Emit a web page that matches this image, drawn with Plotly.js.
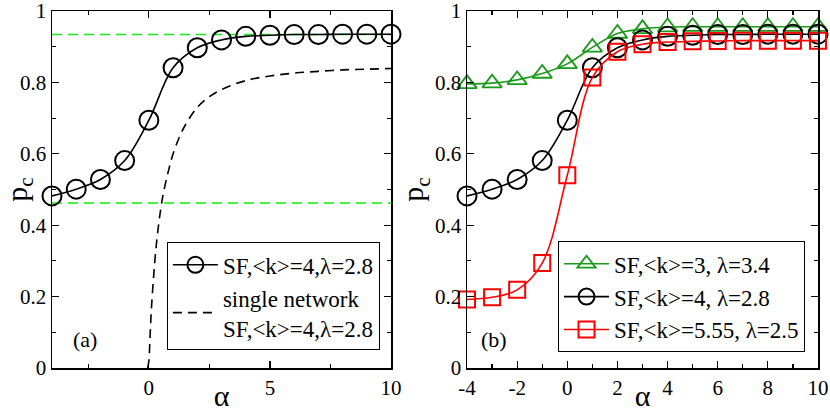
<!DOCTYPE html>
<html>
<head>
<meta charset="utf-8">
<script src="https://cdn.plot.ly/plotly-3.0.1.min.js"></script>
<style>
  body { margin: 0; background: #fff; }
  #chart { width: 830px; height: 412px; }
</style>
</head>
<body>
<div id="chart"></div>
<script>
// alpha values for the simulated points
var alphas = [-4, -3, -2, -1, 0, 1, 2, 3, 4, 5, 6, 7, 8, 9, 10]

// SF <k>=4, lambda=2.8 (same in both panels)
var pcK4 = [0.482, 0.501, 0.528, 0.581, 0.694, 0.841, 0.897, 0.919, 0.929, 0.932, 0.934, 0.934, 0.935, 0.935, 0.935]
// SF <k>=3, lambda=3.4
var pcK3 = [0.796, 0.798, 0.807, 0.825, 0.852, 0.898, 0.937, 0.950, 0.955, 0.956, 0.956, 0.956, 0.956, 0.956, 0.956]
// SF <k>=5.55, lambda=2.5
var pcK555 = [0.192, 0.198, 0.219, 0.294, 0.540, 0.814, 0.886, 0.907, 0.913, 0.915, 0.916, 0.917, 0.917, 0.917, 0.917]

// single network curve
var singleAlpha = [-0.05, 0, 0.05, 0.1, 0.2, 0.3, 0.4, 0.5, 0.6, 0.8, 1.0, 1.25, 1.5, 2, 2.5, 3, 4, 5, 6, 7, 8, 9, 10]
var singlePc = [0, 0.02, 0.09, 0.16, 0.26, 0.34, 0.40, 0.45, 0.49, 0.55, 0.60, 0.645, 0.68, 0.73, 0.76, 0.78, 0.805, 0.818, 0.826, 0.831, 0.835, 0.837, 0.839]

// green reference levels in panel (a)
var levelX = [-4, 10]
var levelHigh = [0.934, 0.934]
var levelLow = [0.462, 0.462]

// tick labels
var yTickVals = [0, 0.2, 0.4, 0.6, 0.8, 1]
var yTickText = ["0", "0.2", "0.4", "0.6", "0.8", "1"]
var xTickValsA = [0, 5, 10]
var xTickTextA = ["0", "5", "10"]
var xTickValsB = [-4, -2, 0, 2, 4, 6, 8, 10]
var xTickTextB = ["-4", "-2", "0", "2", "4", "6", "8", "10"]

var fontName = "Liberation Serif"
var greenDark = "#1a9a1a"
var red = "#ff0000"

var data = [
    {
        x: levelX, y: levelHigh, xaxis: "x", yaxis: "y", mode: "lines",
        line: {color: "#11ee11", width: 1.6, dash: "10px,6px"}, showlegend: false, hoverinfo: "skip"
    },
    {
        x: levelX, y: levelLow, xaxis: "x", yaxis: "y", mode: "lines",
        line: {color: "#11ee11", width: 1.6, dash: "10px,6px"}, showlegend: false, hoverinfo: "skip"
    },
    {
        x: alphas, y: pcK4, xaxis: "x", yaxis: "y", mode: "lines+markers",
        name: "SF,&lt;k&gt;=4,λ=2.8", legend: "legend", cliponaxis: false,
        line: {color: "black", width: 1.6, shape: "spline"},
        marker: {symbol: "circle-open", size: 19, color: "black", line: {width: 2, color: "black"}}
    },
    {
        x: singleAlpha, y: singlePc, xaxis: "x", yaxis: "y", mode: "lines",
        name: "single network<br>SF,&lt;k&gt;=4,λ=2.8", legend: "legend",
        line: {color: "black", width: 1.6, dash: "9px,6px", shape: "spline"}
    },
    {
        x: alphas, y: pcK3, xaxis: "x2", yaxis: "y2", mode: "lines+markers",
        name: "SF,&lt;k&gt;=3, λ=3.4", legend: "legend2", cliponaxis: false,
        line: {color: greenDark, width: 1.6, shape: "spline"},
        marker: {symbol: "triangle-up-open", size: 17, color: greenDark, line: {width: 1.8, color: greenDark}}
    },
    {
        x: alphas, y: pcK4, xaxis: "x2", yaxis: "y2", mode: "lines+markers",
        name: "SF,&lt;k&gt;=4, λ=2.8", legend: "legend2", cliponaxis: false,
        line: {color: "black", width: 1.6, shape: "spline"},
        marker: {symbol: "circle-open", size: 19, color: "black", line: {width: 2, color: "black"}}
    },
    {
        x: alphas, y: pcK555, xaxis: "x2", yaxis: "y2", mode: "lines+markers",
        name: "SF,&lt;k&gt;=5.55, λ=2.5", legend: "legend2", cliponaxis: false,
        line: {color: red, width: 1.6, shape: "spline"},
        marker: {symbol: "square-open", size: 16, color: red, line: {width: 2, color: red}}
    }
]

function xAxis(domain, tickVals, tickText, minorDtick, anchor) {
    return {
        domain: domain, anchor: anchor, range: [-4, 10],
        tickmode: "array", tickvals: tickVals, ticktext: tickText,
        showgrid: false, zeroline: false, showline: true, linecolor: "black", linewidth: 1.5,
        mirror: "ticks", ticks: "inside", ticklen: 7, tickwidth: 1.2, tickcolor: "black",
        minor: {tick0: 0, dtick: minorDtick, ticks: "inside", ticklen: 4, tickwidth: 1.2, tickcolor: "black"},
        tickfont: {family: fontName, size: 21, color: "black"},
        ticklabeloverflow: "allow",
        title: {text: "α", font: {family: fontName, size: 30, color: "black"}, standoff: 0}
    }
}

function yAxis(anchor) {
    return {
        anchor: anchor, domain: [0, 1], range: [0, 1],
        tickmode: "array", tickvals: yTickVals, ticktext: yTickText,
        showgrid: false, zeroline: false, showline: true, linecolor: "black", linewidth: 1.5,
        mirror: "ticks", ticks: "inside", ticklen: 7, tickwidth: 1.2, tickcolor: "black",
        minor: {tick0: 0, dtick: 0.1, ticks: "inside", ticklen: 4, tickwidth: 1.2, tickcolor: "black"},
        tickfont: {family: fontName, size: 21, color: "black"},
        ticklabeloverflow: "allow",
        title: {text: "p<sub>c</sub>", font: {family: fontName, size: 30, color: "black"}, standoff: 2}
    }
}

function legendAt(x, y) {
    return {
        x: x, y: y, xanchor: "left", yanchor: "top",
        bgcolor: "white", bordercolor: "black", borderwidth: 1,
        font: {family: fontName, size: 23, color: "black"},
        itemwidth: 45, tracegroupgap: 0
    }
}

var layout = {
    width: 830, height: 412,
    margin: {l: 52, r: 12, t: 11, b: 44},
    paper_bgcolor: "white", plot_bgcolor: "white",
    font: {family: fontName, color: "black"},
    xaxis: xAxis([0, 0.4426], xTickValsA, xTickTextA, 2.5, "y"),
    yaxis: yAxis("x"),
    xaxis2: xAxis([0.5418, 1], xTickValsB, xTickTextB, 1, "y2"),
    yaxis2: yAxis("x2"),
    legend: legendAt(0.150, 0.352),
    legend2: legendAt(0.6606, 0.355),
    annotations: [
        {text: "(a)", x: -2.64, y: 0.081, xref: "x", yref: "y", showarrow: false,
         font: {family: fontName, size: 22, color: "black"}},
        {text: "(b)", x: -2.92, y: 0.081, xref: "x2", yref: "y2", showarrow: false,
         font: {family: fontName, size: 22, color: "black"}}
    ]
}

Plotly.newPlot("chart", data, layout, {staticPlot: true})
</script>
</body>
</html>
